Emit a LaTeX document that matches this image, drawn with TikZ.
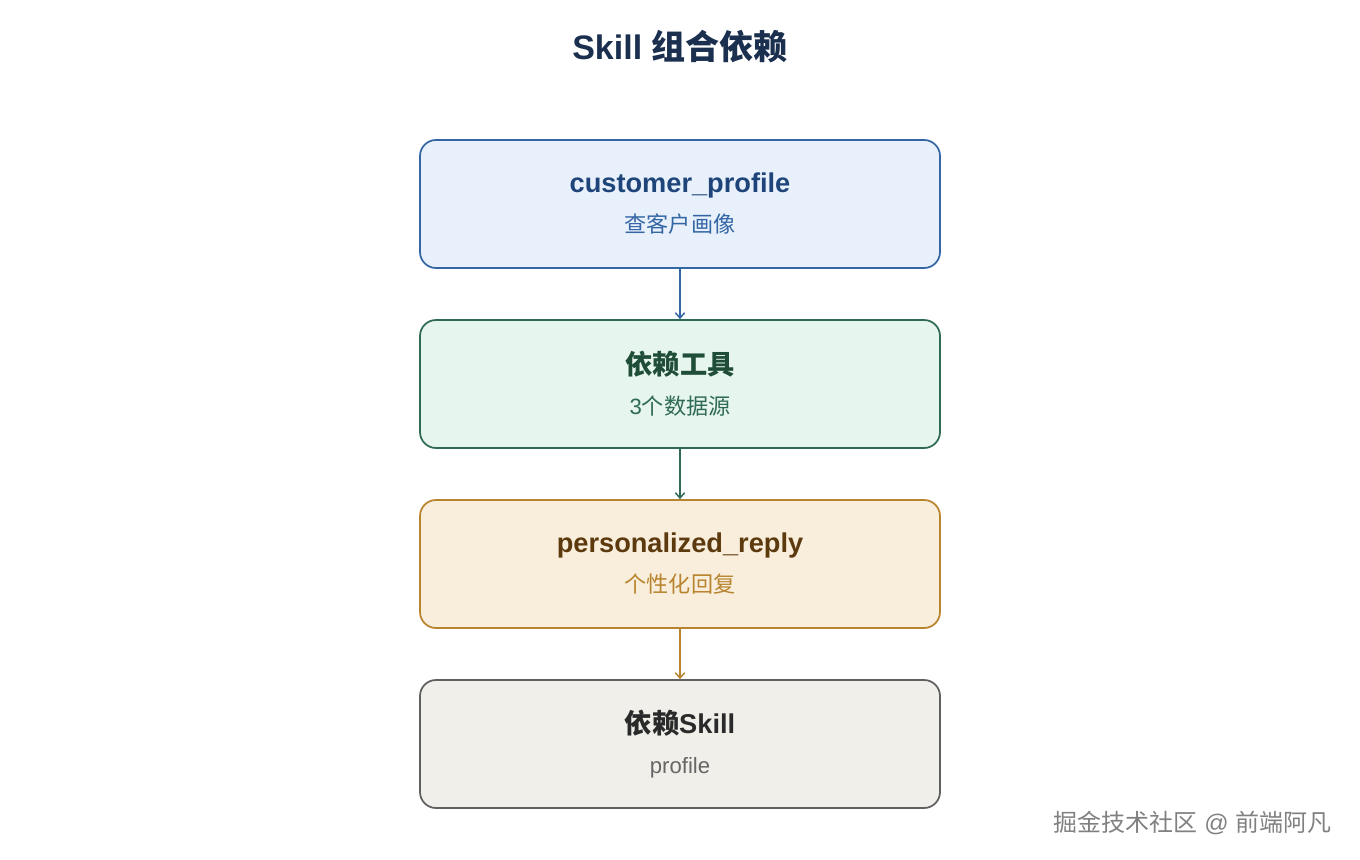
\documentclass[tikz,border=0pt]{standalone}
\usepackage{fontspec}
\setmainfont{Liberation Sans}
\newfontfamily\cjk{Noto Sans CJK SC}
\usetikzlibrary{positioning,arrows.meta}
\definecolor{titlenavy}{HTML}{1B2F4F}
\definecolor{profilefill}{HTML}{E8F1FB}
\definecolor{profileline}{HTML}{3466A5}
\definecolor{profiletitle}{HTML}{1E4479}
\definecolor{toolsfill}{HTML}{E6F5EE}
\definecolor{toolsline}{HTML}{2F6B52}
\definecolor{toolstitle}{HTML}{1F4D38}
\definecolor{replyfill}{HTML}{F8EEDB}
\definecolor{replyline}{HTML}{B8842F}
\definecolor{replytitle}{HTML}{5C3A0E}
\definecolor{depfill}{HTML}{F0EFEA}
\definecolor{depline}{HTML}{606060}
\definecolor{deptitle}{HTML}{2A2A2A}
\definecolor{depsub}{HTML}{666666}
\newcommand{\skilltext}[4]{{\color{#3}\bfseries\fontsize{20.4}{30}\selectfont #1}\\{\color{#4}\fontsize{16.6}{30}\selectfont #2}}

\begin{document}
\begin{tikzpicture}[x=0.75pt,y=-0.75pt,
    skillbox/.style={draw, rounded corners=12pt, line width=1.3pt,
        minimum width=390pt, minimum height=96pt, align=center,
        font=\fontsize{20}{30}\selectfont},
    dep/.style={-{Straight Barb[length=4pt,width=7pt]}, line width=1.1pt},
    node distance=37.7pt]
    \useasboundingbox (0,0) rectangle (1360,860);
    % title
    \node[font=\bfseries\fontsize{25.5}{30}\selectfont, text=titlenavy] (title) at (680,47) {Skill {\cjk 组合依赖}};
    % skill chain
    \node[skillbox, draw=profileline, fill=profilefill] (profile) at (680,204)
        {\skilltext{customer\_profile}{\cjk 查客户画像}{profiletitle}{profileline}};
    \node[skillbox, draw=toolsline, fill=toolsfill, below=of profile] (tools)
        {\skilltext{\cjk 依赖工具}{3{\cjk 个数据源}}{toolstitle}{toolsline}};
    \node[skillbox, draw=replyline, fill=replyfill, below=of tools] (reply)
        {\skilltext{personalized\_reply}{\cjk 个性化回复}{replytitle}{replyline}};
    \node[skillbox, draw=depline, fill=depfill, below=of reply] (skilldep)
        {\skilltext{{\cjk 依赖}Skill}{profile}{deptitle}{depsub}};
    \draw[dep, profileline] (profile) -- (tools);
    \draw[dep, toolsline] (tools) -- (reply);
    \draw[dep, replyline] (reply) -- (skilldep);
    % watermark
    \node[text=gray, font=\fontsize{18}{20}\selectfont, anchor=east] (mark) at (1336,823) {{\cjk 掘金技术社区} @ {\cjk 前端阿凡}};
\end{tikzpicture}
\end{document}
